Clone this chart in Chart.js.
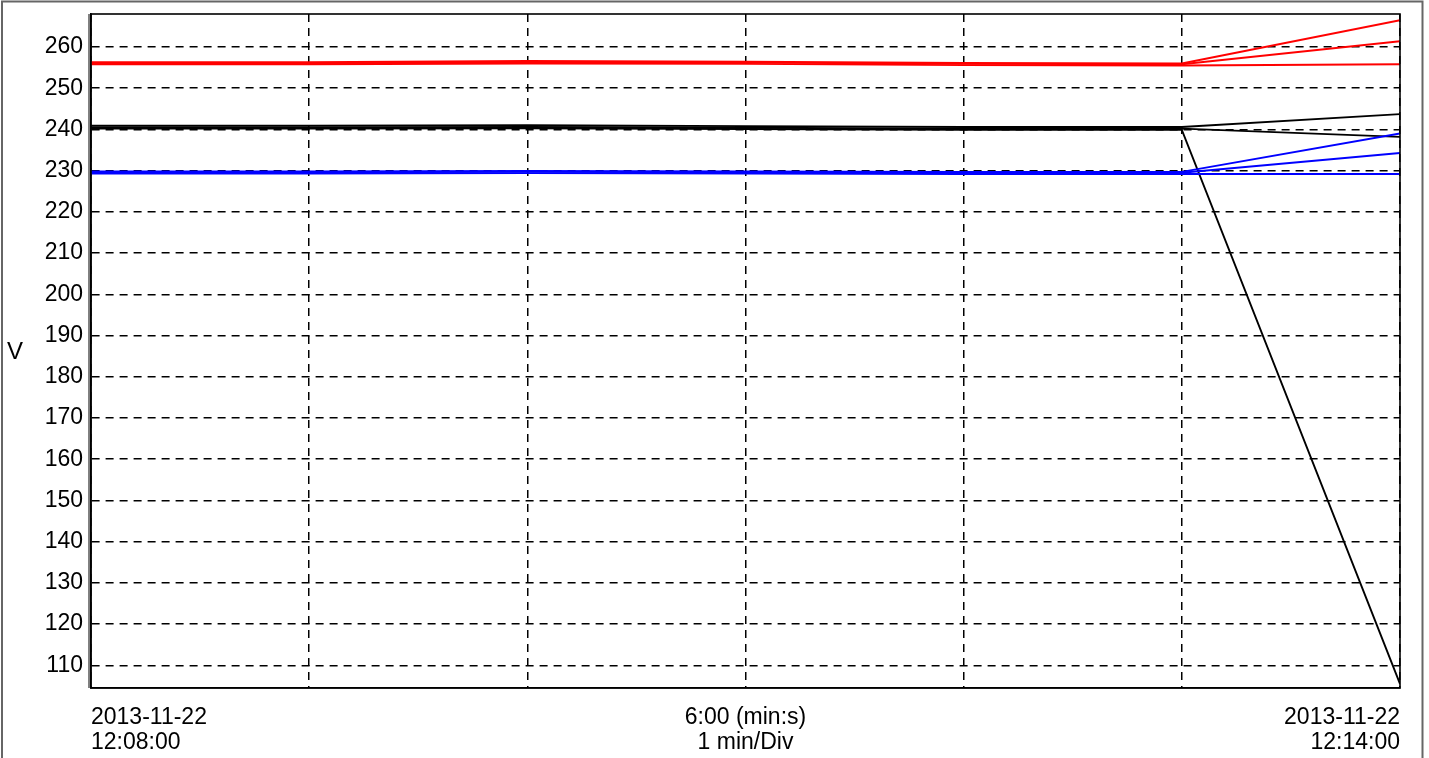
<!DOCTYPE html>
<html><head><meta charset="utf-8">
<script src="https://cdn.jsdelivr.net/npm/chart.js@4.4.1/dist/chart.umd.min.js"></script>
<style>html,body{margin:0;padding:0;background:#fff;}#wrap{position:relative;width:1429px;height:758px;}</style>
</head><body><div id="wrap"><canvas id="c" width="1429" height="758"></canvas></div>
<script>
// time in minutes since 2013-11-22 12:08:00
const minutes = [0, 1, 2, 3, 4, 5, 6];
const red1 = [256.3, 256.3, 256.6, 256.4, 256.1, 256.0, 266.5];
const red2 = [256.0, 256.0, 256.3, 256.2, 255.9, 255.8, 261.4];
const red3 = [255.8, 255.8, 256.0, 255.9, 255.6, 255.5, 255.8];
const black1 = [240.9, 240.9, 241.0, 240.8, 240.6, 240.6, 243.7];
const black2 = [240.5, 240.5, 240.6, 240.4, 240.2, 240.2, 238.2];
const black3 = [240.2, 240.2, 240.3, 240.1, 239.9, 239.9, 105.5];
const blue1 = [229.8, 229.8, 229.9, 229.8, 229.7, 229.7, 239.0];
const blue2 = [229.6, 229.6, 229.7, 229.6, 229.5, 229.5, 234.3];
const blue3 = [229.3, 229.3, 229.4, 229.3, 229.2, 229.2, 229.2];
const tickMinutes = [0, 3, 6];
const tickLabels = [['2013-11-22', '12:08:00'], ['6:00 (min:s)', '1 min/Div'], ['2013-11-22', '12:14:00']];
const yAxisTitle = 'V';

const series = [
  [red1, '#ff0000'], [red2, '#ff0000'], [red3, '#ff0000'],
  [blue1, '#0000ff'], [blue2, '#0000ff'], [blue3, '#0000ff'],
  [black1, '#000000'], [black2, '#000000'], [black3, '#000000']
];
const datasets = series.map(([vals, col]) => ({
  data: vals.map((v, i) => ({x: minutes[i], y: v})),
  borderColor: col, backgroundColor: col, borderWidth: 1.9,
  pointRadius: 0, tension: 0, fill: false
}));

const frame = {
  id: 'frame',
  afterDraw(chart) {
    const {ctx, chartArea: a} = chart;
    ctx.save();
    ctx.strokeStyle = '#000'; ctx.lineWidth = 1.6;
    ctx.strokeRect(a.left, a.top, a.right - a.left, a.bottom - a.top);
    ctx.lineWidth = 1;
    ctx.beginPath(); ctx.moveTo(a.left - 2, a.top); ctx.lineTo(a.left - 2, a.bottom); ctx.stroke();
    ctx.strokeStyle = '#666'; ctx.lineWidth = 2;
    ctx.beginPath(); ctx.moveTo(2, 758); ctx.lineTo(2, 1.5); ctx.lineTo(1422.5, 1.5); ctx.lineTo(1422.5, 758); ctx.stroke();
    ctx.fillStyle = '#000'; ctx.font = '24px "Liberation Sans", Arial, sans-serif';
    ctx.textAlign = 'center'; ctx.textBaseline = 'middle';
    ctx.fillText(yAxisTitle, 15, 352);
    ctx.restore();
  }
};

const font = {family: '"Liberation Sans", Arial, sans-serif', size: 23, lineHeight: 1.1};
new Chart(document.getElementById('c'), {
  type: 'line',
  data: {datasets},
  options: {
    responsive: false, animation: false,
    layout: {padding: {top: 14, right: 29, left: 0, bottom: 0}},
    plugins: {legend: {display: false}, tooltip: {enabled: false}},
    scales: {
      x: {
        type: 'linear', min: 0, max: 6,
        afterFit: s => { s.height = 70; s.paddingLeft = 0; s.paddingRight = 0; },
        ticks: {
          stepSize: 1, autoSkip: false, maxRotation: 0, align: 'inner', padding: 17,
          color: '#000', font,
          callback: v => { const i = tickMinutes.indexOf(v); return i >= 0 ? tickLabels[i] : ''; }
        },
        grid: {color: '#000', lineWidth: 1.5, drawTicks: false},
        border: {display: true, color: '#000', width: 1.6, dash: [8, 6]}
      },
      y: {
        min: 104.5, max: 268,
        afterFit: s => { s.width = 91; s.paddingTop = 0; s.paddingBottom = 0; },
        ticks: {stepSize: 10, includeBounds: false, maxTicksLimit: 100, padding: 8, color: '#000', font},
        grid: {color: '#000', lineWidth: 1.5, drawTicks: false},
        border: {display: true, color: '#000', width: 1.6, dash: [8, 6]}
      }
    }
  },
  plugins: [frame]
});
</script></body></html>
